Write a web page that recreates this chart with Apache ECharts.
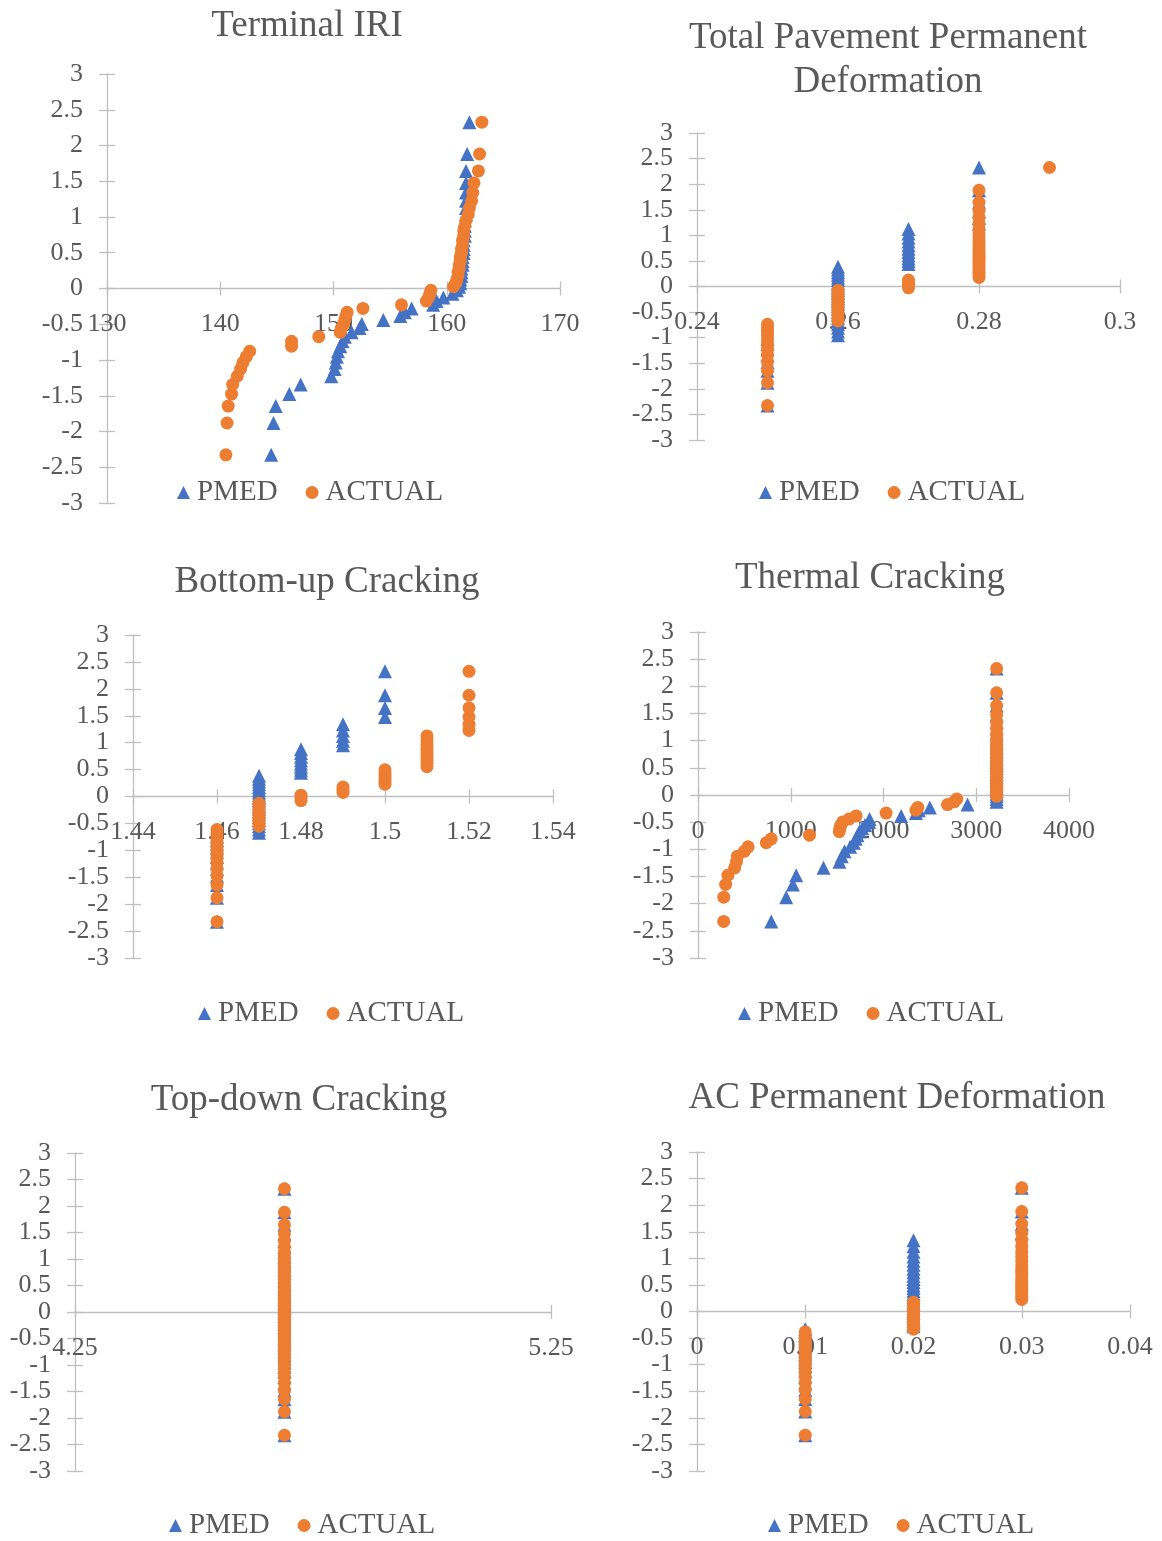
<!DOCTYPE html>
<html>
<head>
<meta charset="utf-8">
<title>Normal probability plots: PMED vs ACTUAL</title>
<script src="https://cdn.jsdelivr.net/npm/echarts@6/dist/echarts.min.js"></script>
<style>
  html, body { margin: 0; padding: 0; background: #ffffff; }
  #chart { width: 1162px; height: 1541px; }
</style>
</head>
<body>
<div id="chart"></div>
<script>
// Standard normal quantiles shared by every panel (50 ranked observations)
const zScores = [
  -2.326, -1.881, -1.645, -1.476, -1.341, -1.227, -1.126, -1.036, -0.954, -0.878,
  -0.806, -0.739, -0.674, -0.613, -0.553, -0.496, -0.440, -0.385, -0.332, -0.279,
  -0.228, -0.176, -0.126, -0.075, -0.025, 0.025, 0.075, 0.126, 0.176, 0.228,
  0.279, 0.332, 0.385, 0.440, 0.496, 0.553, 0.613, 0.674, 0.739, 0.806,
  0.878, 0.954, 1.036, 1.126, 1.227, 1.341, 1.476, 1.645, 1.881, 2.326
];

// Terminal IRI (sorted)
const iriPmed = [
  144.5, 144.7, 144.9, 146.1, 147.1, 149.8, 150.1, 150.2, 150.3, 150.4,
  150.6, 150.8, 151.0, 151.6, 152.3, 152.5, 154.4, 155.9, 156.3, 156.9,
  158.8, 159.1, 159.7, 160.5, 160.9, 161.1, 161.2, 161.2, 161.3, 161.3,
  161.3, 161.4, 161.4, 161.4, 161.5, 161.5, 161.5, 161.5, 161.6, 161.6,
  161.6, 161.6, 161.7, 161.7, 161.7, 161.7, 161.7, 161.7, 161.8, 162.0
];
const iriActual = [
  140.5, 140.6, 140.7, 141.0, 141.1, 141.5, 141.8, 142.0, 142.3, 142.6,
  146.3, 146.3, 148.7, 150.6, 150.7, 150.9, 151.0, 151.1, 151.2, 152.6,
  156.0, 158.2, 158.4, 158.5, 158.6, 160.6, 160.8, 160.9, 161.0, 161.0,
  161.1, 161.1, 161.2, 161.2, 161.3, 161.3, 161.4, 161.4, 161.5, 161.5,
  161.6, 161.7, 161.9, 162.0, 162.2, 162.3, 162.4, 162.8, 162.9, 163.1
];

// Total pavement permanent deformation (sorted)
const tppdPmed = [
  0.25, 0.25, 0.25, 0.25, 0.25, 0.25, 0.25, 0.25, 0.26, 0.26,
  0.26, 0.26, 0.26, 0.26, 0.26, 0.26, 0.26, 0.26, 0.26, 0.26,
  0.26, 0.26, 0.26, 0.26, 0.26, 0.26, 0.26, 0.26, 0.26, 0.26,
  0.26, 0.26, 0.26, 0.27, 0.27, 0.27, 0.27, 0.27, 0.27, 0.27,
  0.27, 0.27, 0.27, 0.27, 0.28, 0.28, 0.28, 0.28, 0.28, 0.28
];
const tppdActual = [
  0.25, 0.25, 0.25, 0.25, 0.25, 0.25, 0.25, 0.25, 0.25, 0.25,
  0.25, 0.25, 0.26, 0.26, 0.26, 0.26, 0.26, 0.26, 0.26, 0.26,
  0.26, 0.26, 0.26, 0.26, 0.27, 0.27, 0.27, 0.27, 0.28, 0.28,
  0.28, 0.28, 0.28, 0.28, 0.28, 0.28, 0.28, 0.28, 0.28, 0.28,
  0.28, 0.28, 0.28, 0.28, 0.28, 0.28, 0.28, 0.28, 0.28, 0.29
];

// Bottom-up cracking (sorted)
const bucPmed = [
  1.46, 1.46, 1.46, 1.46, 1.46, 1.46, 1.46, 1.46, 1.46, 1.46,
  1.46, 1.46, 1.47, 1.47, 1.47, 1.47, 1.47, 1.47, 1.47, 1.47,
  1.47, 1.47, 1.47, 1.47, 1.47, 1.47, 1.47, 1.47, 1.47, 1.47,
  1.47, 1.47, 1.47, 1.48, 1.48, 1.48, 1.48, 1.48, 1.48, 1.48,
  1.48, 1.49, 1.49, 1.49, 1.49, 1.49, 1.50, 1.50, 1.50, 1.50
];
const bucActual = [
  1.46, 1.46, 1.46, 1.46, 1.46, 1.46, 1.46, 1.46, 1.46, 1.46,
  1.46, 1.46, 1.46, 1.46, 1.47, 1.47, 1.47, 1.47, 1.47, 1.47,
  1.47, 1.47, 1.47, 1.48, 1.48, 1.48, 1.49, 1.49, 1.49, 1.50,
  1.50, 1.50, 1.50, 1.50, 1.50, 1.51, 1.51, 1.51, 1.51, 1.51,
  1.51, 1.51, 1.51, 1.51, 1.52, 1.52, 1.52, 1.52, 1.52, 1.52
];

// Thermal cracking (sorted)
const thermPmed = [
  790, 951, 1023, 1059, 1353, 1525, 1550, 1580, 1640, 1680,
  1700, 1720, 1740, 1770, 1800, 1846, 1850, 2190, 2350, 2380,
  2500, 2906, 3220, 3220, 3220, 3220, 3220, 3220, 3220, 3220,
  3220, 3220, 3220, 3220, 3220, 3220, 3220, 3220, 3220, 3220,
  3220, 3220, 3220, 3220, 3220, 3220, 3220, 3220, 3220, 3220
];
const thermActual = [
  277, 278, 298, 323, 395, 415, 425, 500, 540, 736,
  790, 1202, 1523, 1530, 1540, 1560, 1630, 1705, 2028, 2350,
  2370, 2690, 2763, 2790, 3220, 3220, 3220, 3220, 3220, 3220,
  3220, 3220, 3220, 3220, 3220, 3220, 3220, 3220, 3220, 3220,
  3220, 3220, 3220, 3220, 3220, 3220, 3220, 3220, 3220, 3220
];

// Top-down cracking (sorted)
const tdcPmed = [
  4.69, 4.69, 4.69, 4.69, 4.69, 4.69, 4.69, 4.69, 4.69, 4.69,
  4.69, 4.69, 4.69, 4.69, 4.69, 4.69, 4.69, 4.69, 4.69, 4.69,
  4.69, 4.69, 4.69, 4.69, 4.69, 4.69, 4.69, 4.69, 4.69, 4.69,
  4.69, 4.69, 4.69, 4.69, 4.69, 4.69, 4.69, 4.69, 4.69, 4.69,
  4.69, 4.69, 4.69, 4.69, 4.69, 4.69, 4.69, 4.69, 4.69, 4.69
];
const tdcActual = [
  4.69, 4.69, 4.69, 4.69, 4.69, 4.69, 4.69, 4.69, 4.69, 4.69,
  4.69, 4.69, 4.69, 4.69, 4.69, 4.69, 4.69, 4.69, 4.69, 4.69,
  4.69, 4.69, 4.69, 4.69, 4.69, 4.69, 4.69, 4.69, 4.69, 4.69,
  4.69, 4.69, 4.69, 4.69, 4.69, 4.69, 4.69, 4.69, 4.69, 4.69,
  4.69, 4.69, 4.69, 4.69, 4.69, 4.69, 4.69, 4.69, 4.69, 4.69
];

// AC permanent deformation (sorted)
const acpdPmed = [
  0.01, 0.01, 0.01, 0.01, 0.01, 0.01, 0.01, 0.01, 0.01, 0.01,
  0.01, 0.01, 0.01, 0.01, 0.01, 0.01, 0.01, 0.01, 0.01, 0.02,
  0.02, 0.02, 0.02, 0.02, 0.02, 0.02, 0.02, 0.02, 0.02, 0.02,
  0.02, 0.02, 0.02, 0.02, 0.02, 0.02, 0.02, 0.02, 0.02, 0.02,
  0.02, 0.02, 0.02, 0.02, 0.02, 0.02, 0.03, 0.03, 0.03, 0.03
];
const acpdActual = [
  0.01, 0.01, 0.01, 0.01, 0.01, 0.01, 0.01, 0.01, 0.01, 0.01,
  0.01, 0.01, 0.01, 0.01, 0.01, 0.01, 0.01, 0.01, 0.02, 0.02,
  0.02, 0.02, 0.02, 0.02, 0.02, 0.02, 0.02, 0.02, 0.02, 0.03,
  0.03, 0.03, 0.03, 0.03, 0.03, 0.03, 0.03, 0.03, 0.03, 0.03,
  0.03, 0.03, 0.03, 0.03, 0.03, 0.03, 0.03, 0.03, 0.03, 0.03
];

const seriesNames = ['PMED', 'ACTUAL'];

// Panel layout: axis ranges and pixel placement of each small chart
const panels = [
  { title: 'Terminal IRI', pmed: iriPmed, actual: iriActual,
    xMin: 130, xMax: 170, xStep: 10,
    grid: { left: 107, top: 74, width: 453, height: 429 },
    titleX: 307, titleY: 4, legendX: 177, legendY: 478 },
  { title: 'Total Pavement Permanent\nDeformation', pmed: tppdPmed, actual: tppdActual,
    xMin: 0.24, xMax: 0.3, xStep: 0.02,
    grid: { left: 697, top: 133, width: 423, height: 307 },
    titleX: 888, titleY: 16, legendX: 759, legendY: 478 },
  { title: 'Bottom-up Cracking', pmed: bucPmed, actual: bucActual,
    xMin: 1.44, xMax: 1.54, xStep: 0.02,
    grid: { left: 133, top: 635, width: 420, height: 323 },
    titleX: 327, titleY: 560, legendX: 198, legendY: 999 },
  { title: 'Thermal Cracking', pmed: thermPmed, actual: thermActual,
    xMin: 0, xMax: 4000, xStep: 1000,
    grid: { left: 698, top: 632, width: 371, height: 326 },
    titleX: 870, titleY: 556, legendX: 738, legendY: 999 },
  { title: 'Top-down Cracking', pmed: tdcPmed, actual: tdcActual,
    xMin: 4.25, xMax: 5.25, xStep: 1,
    grid: { left: 75, top: 1153, width: 476, height: 318 },
    titleX: 299, titleY: 1078, legendX: 169, legendY: 1511 },
  { title: 'AC Permanent Deformation', pmed: acpdPmed, actual: acpdActual,
    xMin: 0, xMax: 0.04, xStep: 0.01,
    grid: { left: 697, top: 1152, width: 433, height: 319 },
    titleX: 897, titleY: 1076, legendX: 768, legendY: 1511 }
];

const FONT = '"Liberation Serif", "Times New Roman", serif';
const TEXT = '#595959';
const AXIS = '#BFBFBF';
const BLUE = '#4472C4';
const ORANGE = '#ED7D31';

// plain number text, no grouping separators
const plain = (v) => String(parseFloat(Number(v).toFixed(6)));
// the y labels are split across two axes so the crowded end labels are never dropped
const isEdgeNeighbour = (v) => Math.abs(Math.abs(v) - 2.5) < 1e-9;
const yLabelsMain = (v) => (isEdgeNeighbour(v) ? '' : plain(v));
const yLabelsExtra = (v) => (isEdgeNeighbour(v) ? plain(v) : '');

const option = {
  backgroundColor: '#ffffff',
  animation: false,
  title: [], grid: [], xAxis: [], yAxis: [], legend: [], series: []
};

const yLabelStyle = {
  show: true, margin: 24, fontFamily: FONT, fontSize: 26, color: TEXT,
  showMinLabel: true, showMaxLabel: true, hideOverlap: false, interval: 0
};

panels.forEach((p, i) => {
  option.title.push({
    text: p.title, left: p.titleX, top: p.titleY, textAlign: 'center', padding: 0,
    textStyle: { fontFamily: FONT, fontSize: 37, fontWeight: 'normal', color: TEXT, lineHeight: 44 }
  });
  option.grid.push(Object.assign({ containLabel: false }, p.grid));

  // the horizontal axis sits on y = 0, which is the middle of the symmetric -3..3 range
  const midOffset = -p.grid.height / 2;

  // main axes: line, labels and outer tick halves
  option.xAxis.push({
    type: 'value', gridIndex: i, position: 'bottom', offset: midOffset,
    min: p.xMin, max: p.xMax, interval: p.xStep,
    axisLine: { show: true, onZero: false, lineStyle: { color: AXIS, width: 1.3 } },
    axisTick: { show: true, inside: false, length: 7, lineStyle: { color: AXIS, width: 1.3 } },
    axisLabel: { show: true, margin: 23, fontFamily: FONT, fontSize: 26, color: TEXT,
                 showMinLabel: true, showMaxLabel: true, hideOverlap: false, formatter: plain },
    splitLine: { show: false }
  });
  // companion axes: inner tick halves so ticks cross the line
  option.xAxis.push({
    type: 'value', gridIndex: i, position: 'bottom', offset: midOffset,
    min: p.xMin, max: p.xMax, interval: p.xStep,
    axisLine: { show: false, onZero: false },
    axisTick: { show: true, inside: true, length: 7, lineStyle: { color: AXIS, width: 1.3 } },
    axisLabel: { show: false },
    splitLine: { show: false }
  });
  option.yAxis.push({
    type: 'value', gridIndex: i, position: 'left',
    min: -3, max: 3, interval: 0.5,
    axisLine: { show: true, onZero: false, lineStyle: { color: AXIS, width: 1.3 } },
    axisTick: { show: true, inside: false, length: 8, lineStyle: { color: AXIS, width: 1.3 } },
    axisLabel: Object.assign({ formatter: yLabelsMain }, yLabelStyle),
    splitLine: { show: false }
  });
  option.yAxis.push({
    type: 'value', gridIndex: i, position: 'left',
    min: -3, max: 3, interval: 0.5,
    axisLine: { show: false, onZero: false },
    axisTick: { show: true, inside: true, length: 8, lineStyle: { color: AXIS, width: 1.3 } },
    axisLabel: Object.assign({ formatter: yLabelsExtra }, yLabelStyle),
    splitLine: { show: false }
  });

  const ax = 2 * i;
  option.series.push({
    name: seriesNames[0], type: 'scatter', xAxisIndex: ax, yAxisIndex: ax,
    symbol: 'triangle', symbolSize: 14,
    itemStyle: { color: BLUE, opacity: 1 },
    data: p.pmed.map((v, k) => [v, zScores[k]])
  });
  option.series.push({
    name: seriesNames[1], type: 'scatter', xAxisIndex: ax, yAxisIndex: ax,
    symbol: 'circle', symbolSize: 13,
    itemStyle: { color: ORANGE, opacity: 1 },
    data: p.actual.map((v, k) => [v, zScores[k]])
  });

  option.legend.push({
    left: p.legendX, top: p.legendY, padding: 0, orient: 'horizontal',
    itemWidth: 13, itemHeight: 13, itemGap: 28, selectedMode: false,
    textStyle: { fontFamily: FONT, fontSize: 29, color: TEXT, padding: [0, 0, 0, 2] },
    data: [{ name: seriesNames[0], icon: 'triangle' }, { name: seriesNames[1], icon: 'circle' }]
  });
});

const chart = echarts.init(document.getElementById('chart'), null, { renderer: 'canvas' });
chart.setOption(option);
</script>
</body>
</html>
